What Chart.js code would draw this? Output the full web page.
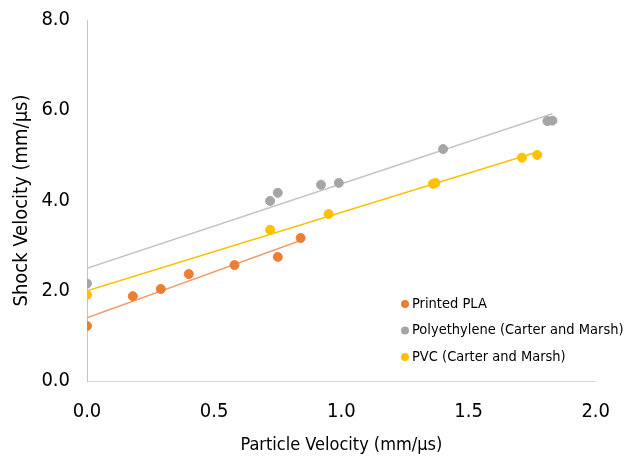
<!DOCTYPE html>
<html>
<head>
<meta charset="utf-8">
<script src="https://cdn.jsdelivr.net/npm/chart.js@4"></script>
<style>
    html, body { margin: 0; padding: 0; background: #fff; }
    #chartContainer { width: 629px; height: 459px; }
</style>
</head>
<body>
<div id="chartContainer"><canvas id="shockChart"></canvas></div>
<script>
// Particle velocity (mm/us) vs shock velocity (mm/us)
const plaParticle = [0.0, 0.18, 0.29, 0.40, 0.58, 0.75, 0.84];
const plaShock = [1.22, 1.88, 2.04, 2.37, 2.57, 2.75, 3.17];

const polyParticle = [0.0, 0.72, 0.75, 0.92, 0.99, 1.40, 1.81, 1.83];
const polyShock = [2.16, 3.99, 4.17, 4.35, 4.39, 5.14, 5.76, 5.77];

const pvcParticle = [0.0, 0.72, 0.95, 1.36, 1.37, 1.71, 1.77];
const pvcShock = [1.91, 3.35, 3.70, 4.37, 4.39, 4.95, 5.01];

const seriesNames = ['Printed PLA', 'Polyethylene (Carter and Marsh)', 'PVC (Carter and Marsh)'];
const seriesColors = ['#ED7D31', '#A5A5A5', '#FFC000'];
const trendColors = ['#F19D6B', '#C4C4C4', '#FFC000'];

const xTicks = [0.0, 0.5, 1.0, 1.5, 2.0];
const yTicks = [0.0, 2.0, 4.0, 6.0, 8.0];

const fontFamily = "'DejaVu Sans Condensed', 'DejaVu Sans', sans-serif";

function toPoints(xs, ys) {
    return xs.map((x, i) => ({ x: x, y: ys[i] }));
}

// least squares line over the data range, like a spreadsheet trendline
function trendLine(xs, ys) {
    const n = xs.length;
    const mx = xs.reduce((a, b) => a + b, 0) / n;
    const my = ys.reduce((a, b) => a + b, 0) / n;
    let sxy = 0, sxx = 0;
    for (let i = 0; i < n; i++) {
        sxy += (xs[i] - mx) * (ys[i] - my);
        sxx += (xs[i] - mx) * (xs[i] - mx);
    }
    const slope = sxy / sxx;
    const icpt = my - slope * mx;
    const lo = Math.min(...xs), hi = Math.max(...xs);
    return [{ x: lo, y: icpt + slope * lo }, { x: hi, y: icpt + slope * hi }];
}

const allX = [plaParticle, polyParticle, pvcParticle];
const allY = [plaShock, polyShock, pvcShock];

const datasets = [];
allX.forEach((xs, i) => {
    datasets.push({
        type: 'line',
        label: seriesNames[i] + ' trend',
        data: trendLine(xs, allY[i]),
        borderColor: trendColors[i],
        borderWidth: 1.5,
        pointRadius: 0,
        fill: false,
        order: 10 + i
    });
});
allX.forEach((xs, i) => {
    datasets.push({
        type: 'scatter',
        label: seriesNames[i],
        data: toPoints(xs, allY[i]),
        backgroundColor: seriesColors[i],
        borderColor: seriesColors[i],
        pointRadius: 4.5,
        pointHoverRadius: 4.5,
        order: i
    });
});

// legend drawn inside the plot area, lower right
const insideLegend = {
    id: 'insideLegend',
    afterDraw(chart) {
        const ctx = chart.ctx;
        const area = chart.chartArea;
        const left = area.left + 318;
        const top = area.top + 284;
        ctx.save();
        ctx.font = '14.5px ' + fontFamily;
        ctx.textBaseline = 'middle';
        seriesNames.forEach((name, i) => {
            const y = top + i * 26.5;
            ctx.fillStyle = seriesColors[i];
            ctx.beginPath();
            ctx.arc(left, y, 4, 0, Math.PI * 2);
            ctx.fill();
            ctx.fillStyle = '#000';
            ctx.fillText(name, left + 7, y);
        });
        ctx.restore();
    }
};

const ctx = document.getElementById('shockChart').getContext('2d');
new Chart(ctx, {
    data: { datasets: datasets },
    options: {
        responsive: true,
        maintainAspectRatio: false,
        animation: false,
        layout: { padding: { top: 20, right: 32, left: 0, bottom: 0 } },
        plugins: {
            legend: { display: false },
            tooltip: { enabled: false }
        },
        scales: {
            x: {
                type: 'linear',
                min: 0,
                max: 2,
                afterBuildTicks: (scale) => { scale.ticks = xTicks.map(v => ({ value: v })); },
                afterFit: (scale) => { scale.height = 78; },
                grid: { display: false, drawTicks: false },
                border: { display: true, color: '#CBD5E4', width: 1 },
                ticks: {
                    padding: 19,
                    color: '#000',
                    font: { family: fontFamily, size: 20 },
                    callback: (v) => Number(v).toFixed(1)
                },
                title: {
                    display: true,
                    text: 'Particle Velocity (mm/µs)',
                    color: '#000',
                    font: { family: fontFamily, size: 18 },
                    padding: { top: 4, bottom: 3 }
                }
            },
            y: {
                type: 'linear',
                min: 0,
                max: 8,
                afterBuildTicks: (scale) => { scale.ticks = yTicks.map(v => ({ value: v })); },
                afterFit: (scale) => {
                    scale.width = 87;
                    scale.paddingTop = 0;
                    scale.paddingBottom = 0;
                },
                grid: { display: false, drawTicks: false },
                border: { display: true, color: '#B9C6DA', width: 1 },
                ticks: {
                    padding: 17,
                    color: '#000',
                    font: { family: fontFamily, size: 20 },
                    callback: (v) => Number(v).toFixed(1)
                },
                title: {
                    display: true,
                    text: 'Shock Velocity (mm/µs)',
                    color: '#000',
                    font: { family: fontFamily, size: 20 },
                    padding: { top: 10, bottom: 0 }
                }
            }
        }
    },
    plugins: [insideLegend]
});
</script>
</body>
</html>
